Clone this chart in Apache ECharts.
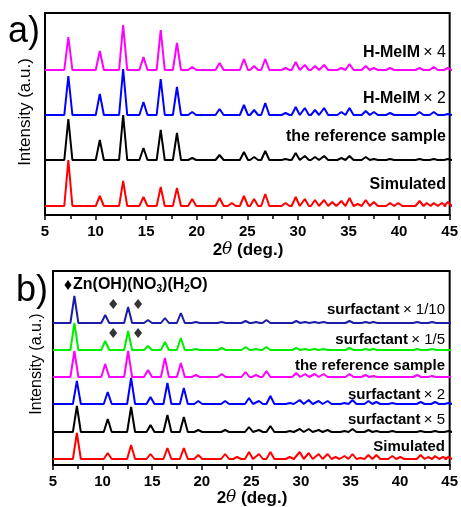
<!DOCTYPE html>
<html>
<head>
<meta charset="utf-8">
<script src="https://cdn.jsdelivr.net/npm/echarts@6/dist/echarts.min.js"></script>
<style>
  html, body { margin: 0; padding: 0; background: #fff; }
  #chart { width: 461px; height: 507px; }
</style>
</head>
<body>
<div id="chart"></div>
<script>
// peak positions, 2θ (deg.), panel a
const peaksA = [7.3, 10.4, 12.7, 14.7, 16.4, 18.0, 19.5, 22.2, 23.4, 24.6, 25.6, 26.7, 28.7, 29.7, 30.6,
  31.6, 32.5, 33.3, 34.2, 35.0, 35.8, 36.6, 37.4, 39.0, 39.8, 41.9, 42.6, 43.3, 44.1, 44.7]
// peak heights (a.u.), one per position above
const hmeim4 = [33, 19, 45, 13, 40, 27, 3, 7, 0, 11, 4, 11, 2, 8, 5, 4, 5, 0, 2, 6, 0, 4, 2, 2, 0, 2, 0, 3, 0, 2]
const hmeim2 = [39, 21, 46, 13, 36, 28, 3, 6, 0, 10, 5, 12, 2, 8, 7, 5, 7, 0, 3, 7, 0, 4, 3, 2, 0, 3, 0, 3, 0, 1]
const refA = [41, 20, 45, 12, 30, 27, 2, 5, 0, 8, 3, 9, 1, 7, 4, 3, 4, 0, 2, 4, 0, 3, 1, 1, 0, 1, 0, 1, 0, 1]
const simA = [46, 10, 25, 9, 19, 18, 7, 8, 3, 10, 7, 12, 3, 9, 7, 6, 6, 4, 5, 8, 2, 6, 4, 3, 3, 5, 3, 3, 3, 4]

// panel b: the three upper patterns sit a little lower in 2θ
const peaksBHigh = [7.15, 10.25, 12.55, 14.55, 16.25, 17.85, 19.35, 21.95, 24.35, 25.4, 26.45, 29.45, 30.35,
  31.3, 32.2, 34.8, 36.4, 37.2, 41.6, 43.1]
const surf10 = [27, 8, 16, 3, 5, 10, 1, 1, 2, 1, 3, 2, 1, 1, 1, 2, 1, 1, 1, 1]
const surf5th = [27, 9, 19, 4, 8, 12, 1, 2, 3, 1, 3, 2, 1, 1, 1, 2, 1, 1, 1, 1]
const refB = [26, 13, 26, 7, 19, 14, 2, 3, 5, 2, 6, 4, 3, 3, 3, 3, 2, 1, 2, 1]
const peaksBLow = [7.4, 10.5, 12.85, 14.8, 16.5, 18.15, 19.6, 22.3, 23.5, 24.7, 25.7, 26.85, 28.8, 29.8, 30.7,
  31.7, 32.6, 33.4, 34.3, 35.1, 35.9, 36.7, 37.5, 39.1, 39.9, 41.95, 42.7, 43.4, 44.2, 44.75]
const surf2 = [23, 12, 26, 7, 21, 16, 3, 3, 0, 6, 3, 8, 1, 4, 4, 3, 3, 0, 1, 4, 0, 3, 2, 1, 0, 2, 0, 2, 0, 1]
const surfx5 = [26, 13, 25, 7, 17, 15, 2, 2, 0, 5, 2, 6, 1, 3, 3, 2, 2, 0, 1, 3, 0, 2, 1, 1, 0, 1, 0, 1, 0, 1]
const simB = [26, 6, 14, 5, 11, 11, 4, 5, 2, 7, 5, 7, 2, 7, 6, 5, 5, 2, 3, 5, 1, 4, 4, 3, 2, 4, 2, 3, 2, 2]

// Zn(OH)(NO3)(H2O) reflections marked with diamonds
const znPeaks = [11.05, 13.55]
const xTicks = [5, 10, 15, 20, 25, 30, 35, 40, 45]

const FONT = 'Arial, "Liberation Sans", sans-serif'
const HALF = 0.4 // peak half width at the base

function profile(pos, h) {
  const pts = [[xTicks[0], 0]]
  pos.forEach((p, i) => {
    if (!h[i]) return
    pts.push([p - HALF, 0], [p, h[i]], [p + HALF, 0])
  })
  pts.push([xTicks[xTicks.length - 1], 0])
  return pts
}

const panels = [
  {
    frame: { left: 45, top: 13, width: 406, height: 202 },
    span: 50,
    rows: [
      { base: 70, color: '#ff00ff', pos: peaksA, h: hmeim4 },
      { base: 115, color: '#0000ff', pos: peaksA, h: hmeim2 },
      { base: 160, color: '#000000', pos: peaksA, h: refA },
      { base: 206, color: '#ff0000', pos: peaksA, h: simA }
    ]
  },
  {
    frame: { left: 53, top: 271, width: 398, height: 194 },
    span: 30,
    rows: [
      { base: 323, color: '#1c1ca6', pos: peaksBHigh, h: surf10, mark: 19 },
      { base: 350, color: '#00ee00', pos: peaksBHigh, h: surf5th, mark: 17 },
      { base: 377, color: '#ff00ff', pos: peaksBHigh, h: refB },
      { base: 404, color: '#0000ff', pos: peaksBLow, h: surf2 },
      { base: 432, color: '#000000', pos: peaksBLow, h: surfx5 },
      { base: 459, color: '#ff0000', pos: peaksBLow, h: simB }
    ]
  }
]

const grid = [], xAxis = [], yAxis = [], series = []

panels.forEach(pn => {
  const f = pn.frame
  const gi = grid.length
  grid.push(Object.assign({ show: true, borderColor: '#000', borderWidth: 2, backgroundColor: 'transparent' }, f))
  xAxis.push({
    gridIndex: gi, type: 'value', min: xTicks[0], max: xTicks[xTicks.length - 1], interval: 5,
    axisLine: { lineStyle: { color: '#000', width: 2 } },
    axisTick: { length: 5, lineStyle: { color: '#000', width: 1.5 } },
    minorTick: { show: true, splitNumber: 2, length: 4, lineStyle: { color: '#000', width: 1.5 } },
    axisLabel: { color: '#000', fontSize: 15, fontWeight: 'bold', fontFamily: FONT, margin: 9 },
    splitLine: { show: false }
  })
  yAxis.push({ gridIndex: gi, type: 'value', min: 0, max: 1, show: false })

  pn.rows.forEach(r => {
    const i = grid.length
    grid.push({ left: f.left, width: f.width, top: r.base - pn.span, height: pn.span + 5 })
    xAxis.push({ gridIndex: i, type: 'value', min: xTicks[0], max: xTicks[xTicks.length - 1], show: false })
    yAxis.push({ gridIndex: i, type: 'value', min: -5, max: pn.span, show: false })
    series.push({
      type: 'line', xAxisIndex: i, yAxisIndex: i, data: profile(r.pos, r.h),
      showSymbol: false, clip: false, lineStyle: { color: r.color, width: 2 }
    })
    if (r.mark) {
      series.push({
        type: 'scatter', xAxisIndex: i, yAxisIndex: i, symbol: 'diamond', symbolSize: [8, 10],
        itemStyle: { color: '#000' }, data: znPeaks.map(x => [x, r.mark])
      })
    }
  })
})

function label(x, y, name, factor, size) {
  return {
    type: 'text', x: x, y: y,
    style: {
      text: factor ? '{n|' + name + '} {f|× ' + factor + '}' : '{n|' + name + '}',
      align: 'right', verticalAlign: 'middle',
      rich: {
        n: { fontFamily: FONT, fontSize: size, fontWeight: 'bold', fill: '#000' },
        f: { fontFamily: FONT, fontSize: size, fill: '#000' }
      }
    }
  }
}

function xTitle(x, y) {
  return {
    type: 'text', x: x, y: y,
    style: {
      text: '{a|2}{t|θ}{a| (deg.)}', align: 'center', verticalAlign: 'middle',
      rich: {
        a: { fontFamily: FONT, fontSize: 17, fontWeight: 'bold', fill: '#000' },
        t: { fontFamily: '"DejaVu Serif", serif', fontSize: 17, fontStyle: 'italic', fill: '#000' }
      }
    }
  }
}

function yTitle(x, y, size) {
  return {
    type: 'text', x: x, y: y, rotation: Math.PI / 2,
    style: { text: 'Intensity (a.u.)', fontFamily: FONT, fontSize: size, fill: '#000', align: 'center', verticalAlign: 'middle' }
  }
}

const graphic = [
  { type: 'text', x: 8, y: 32, style: { text: 'a)', fontFamily: FONT, fontSize: 36, fill: '#000', verticalAlign: 'middle' } },
  { type: 'text', x: 16, y: 291, style: { text: 'b)', fontFamily: FONT, fontSize: 36, fill: '#000', verticalAlign: 'middle' } },
  yTitle(25, 112, 17), yTitle(37, 364, 16),
  xTitle(248, 250), xTitle(252, 498),
  label(446, 53, 'H-MeIM', '4', 16),
  label(446, 99, 'H-MeIM', '2', 16),
  label(446, 137, 'the reference sample', '', 16),
  label(446, 185, 'Simulated', '', 16),
  label(445, 310, 'surfactant', '1/10', 15),
  label(445, 340, 'surfactant', '1/5', 15),
  label(445, 366, 'the reference sample', '', 15),
  label(445, 395, 'surfactant', '2', 15),
  label(445, 420, 'surfactant', '5', 15),
  label(445, 447, 'Simulated', '', 15),
  { type: 'polygon', shape: { points: [[68, 280], [71.5, 285], [68, 290], [64.5, 285]] }, style: { fill: '#000' } },
  {
    type: 'text', x: 73, y: 285,
    style: {
      text: '{m|Zn(OH)(NO}{s|3}{m|)(H}{s|2}{m|O)}', verticalAlign: 'middle',
      rich: {
        m: { fontFamily: FONT, fontSize: 16, fontWeight: 'bold', fill: '#000' },
        s: { fontFamily: FONT, fontSize: 10, fontWeight: 'bold', fill: '#000', padding: [8, 0, 0, 0] }
      }
    }
  }
]

const chart = echarts.init(document.getElementById('chart'))
chart.setOption({ animation: false, grid, xAxis, yAxis, series, graphic })
</script>
</body>
</html>
